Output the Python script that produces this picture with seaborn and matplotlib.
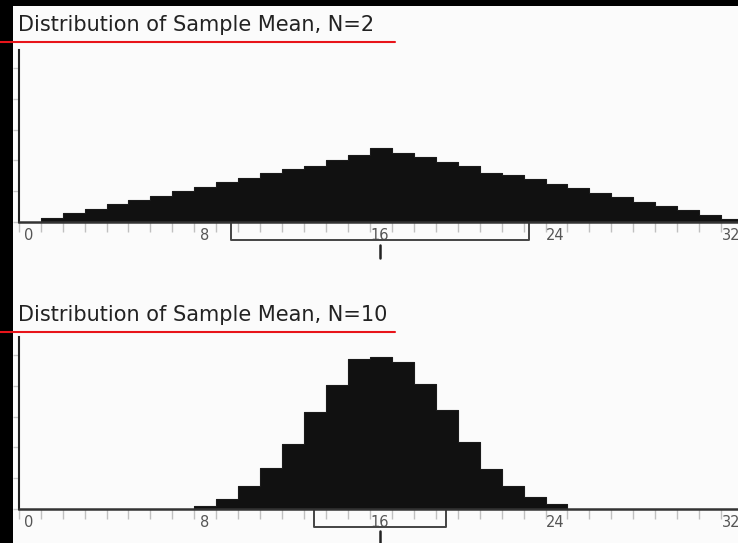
import numpy as np
import matplotlib
matplotlib.use("Agg")
import matplotlib.pyplot as plt
import matplotlib.transforms as mtransforms
from matplotlib.patches import Rectangle
from matplotlib.lines import Line2D
import seaborn as sns

# Sampling distributions (bin start -> height in y-tick units)
n2_bins = list(range(1, 33))
n2_heights = [0.14, 0.29, 0.42, 0.58, 0.72, 0.86, 1.00, 1.15, 1.30, 1.44, 1.59,
              1.73, 1.81, 2.02, 2.17, 2.39, 2.25, 2.11, 1.96, 1.82, 1.60, 1.53,
              1.38, 1.24, 1.09, 0.95, 0.81, 0.66, 0.52, 0.38, 0.23, 0.10]
n2_mean, n2_sd = 16.47, 6.79

n10_bins = list(range(8, 25))
n10_heights = [0.11, 0.31, 0.75, 1.32, 2.10, 3.16, 4.03, 4.86, 4.94, 4.78,
               4.07, 3.23, 2.16, 1.31, 0.74, 0.38, 0.17]
n10_mean, n10_sd = 16.46, 3.02

titles = ["Distribution of Sample Mean, N=2", "Distribution of Sample Mean, N=10"]
xtick_labels = {0: "0", 8: "8", 16: "16", 24: "24", 32: "32"}

sns.set_style("white")
plt.rcParams["font.family"] = ["DejaVu Sans"]

W, H = 738, 543
fig = plt.figure(figsize=(W / 100, H / 100), dpi=100, facecolor="black")

# light panel (black strips stay on the left and top)
fig.patches.append(Rectangle((13 / W, 0), 1 - 13 / W, (H - 6) / H,
                             transform=fig.transFigure, facecolor="#fbfbfb",
                             edgecolor="none", zorder=-10))

px_per_unit = 21.95
x0_px = 18.7
xmax = (W - x0_px) / px_per_unit


def make_axes(top_px, bottom_px):
    return fig.add_axes([x0_px / W, 1 - bottom_px / H,
                         (W - x0_px) / W, (bottom_px - top_px) / H])


panels = [
    dict(top=50, bottom=222, bins=n2_bins, heights=n2_heights, mean=n2_mean,
         sd=n2_sd, title_y=31, red_y=41.5, marker=(23, 36)),
    dict(top=336.7, bottom=509, bins=n10_bins, heights=n10_heights, mean=n10_mean,
         sd=n10_sd, title_y=321, red_y=331.5, marker=(22, 40)),
]

for p, title in zip(panels, titles):
    ax = make_axes(p["top"], p["bottom"])
    ax.set_facecolor("none")
    ax.set_zorder(2)
    ax_h = p["bottom"] - p["top"]
    tick_px = 30.8

    centers = [b + 0.5 for b in p["bins"]]
    edges = list(p["bins"]) + [p["bins"][-1] + 1]
    sns.histplot(x=centers, weights=p["heights"], bins=edges, ax=ax,
                 element="step", fill=True, color="#111111", alpha=1,
                 edgecolor="#1a1a1a", linewidth=0.8)

    ax.set_xlim(0, xmax)
    ax.set_ylim(0, ax_h / tick_px)
    ax.set_xlabel("")
    ax.set_ylabel("")

    ax.set_xticks(range(0, 33))
    ax.set_xticklabels([xtick_labels.get(i, "") for i in range(0, 33)])
    ax.set_yticks(range(0, int(ax_h / tick_px) + 1))
    ax.set_yticklabels([])
    ax.tick_params(axis="x", direction="out", length=7, width=1, color="#c0c0c0",
                   pad=-3, labelsize=10.5, labelcolor="#555555", bottom=True)
    ax.tick_params(axis="y", direction="out", length=4, width=1, color="#c8c8c8",
                   left=True)
    shift = mtransforms.ScaledTranslation(10 / 100, 0, fig.dpi_scale_trans)
    for lab in ax.get_xticklabels():
        lab.set_transform(lab.get_transform() + shift)

    for side in ["top", "right"]:
        ax.spines[side].set_visible(False)
    ax.spines["left"].set_color("#222222")
    ax.spines["left"].set_linewidth(1.5)
    ax.spines["bottom"].set_color("#333333")
    ax.spines["bottom"].set_linewidth(1.8)

    # mean +/- 1 sd bracket and mean marker below the axis
    trans = ax.get_xaxis_transform()
    m, s = p["mean"], p["sd"]
    ax.plot([m - s, m - s, m + s, m + s],
            [-1 / ax_h, -18 / ax_h, -18 / ax_h, -1 / ax_h],
            transform=trans, clip_on=False, color="#444444", lw=1.4)
    ax.plot([m, m], [-p["marker"][0] / ax_h, -p["marker"][1] / ax_h],
            transform=trans, clip_on=False, color="#222222", lw=1.8)

    # title with red rule
    fig.text(18 / W, 1 - p["title_y"] / H, title, fontsize=15, color="#222222",
             ha="left", va="baseline")
    fig.add_artist(Line2D([0, 395 / W], [1 - p["red_y"] / H] * 2,
                          transform=fig.transFigure, color="#e8141a", lw=1.5))

fig.savefig("out.png", dpi=100, facecolor=fig.get_facecolor())
